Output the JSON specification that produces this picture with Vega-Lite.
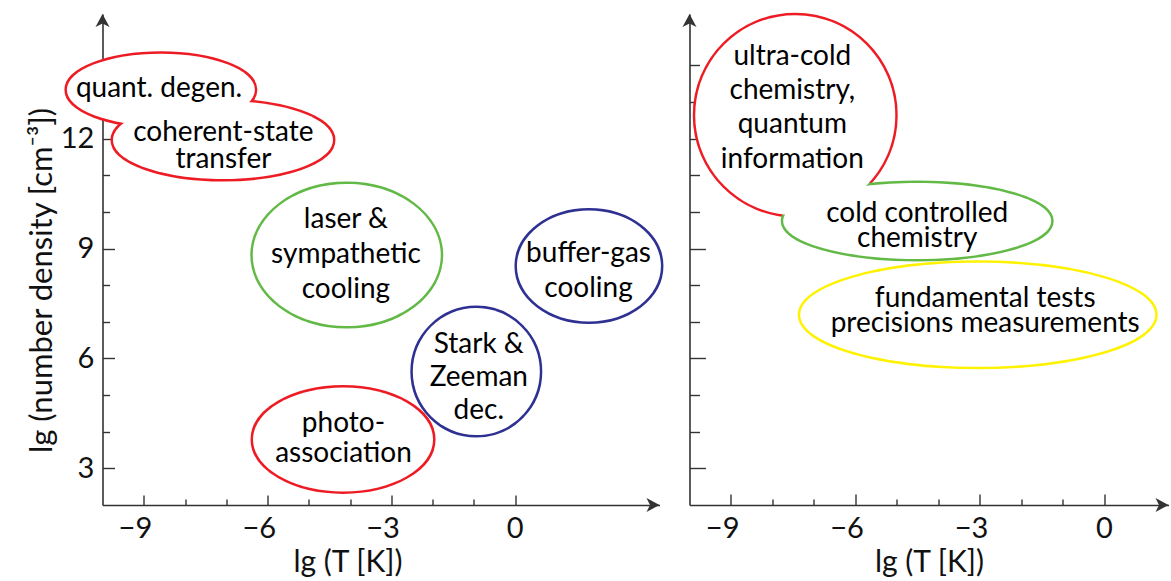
{
  "$schema": "https://vega.github.io/schema/vega-lite/v6.json",
  "background": "white",
  "padding": {"left": 26.5, "top": 12, "right": 0, "bottom": 0},
  "spacing": 19,
  "config": {
    "view": {"stroke": null},
    "font": "Lato",
    "axis": {
      "grid": false,
      "ticks": true,
      "domainColor": "#333333",
      "domainWidth": 1.6,
      "tickColor": "#333333",
      "tickWidth": 1.4,
      "labelFont": "Lato",
      "labelFontSize": 29,
      "labelColor": "#111111",
      "labelFlush": false,
      "labelOverlap": false,
      "titleFont": "Lato",
      "titleFontSize": 30,
      "titleFontWeight": "normal",
      "titleColor": "#111111"
    }
  },
  "datasets": {
    "bubbles": [
      {"panel": "left", "id": "quant", "x": -8.585, "y": 13.33},
      {"panel": "left", "id": "coherent", "x": -7.08, "y": 11.96},
      {"panel": "left", "id": "laser", "x": -4.08, "y": 8.82},
      {"panel": "left", "id": "buffer", "x": 1.79, "y": 8.52},
      {"panel": "left", "id": "stark", "x": -0.94, "y": 5.64},
      {"panel": "left", "id": "photo", "x": -4.17, "y": 3.79},
      {"panel": "right", "id": "ultra", "x": -7.45, "y": 12.64},
      {"panel": "right", "id": "cold", "x": -4.51, "y": 9.75},
      {"panel": "right", "id": "fund", "x": -3.05, "y": 7.19}
    ],
    "lines": [
      {"panel": "left", "x": -8.63, "y": 13.14, "text": "quant. degen."},
      {"panel": "left", "x": -7.07, "y": 11.93, "text": "coherent-state"},
      {"panel": "left", "x": -7.07, "y": 11.19, "text": "transfer"},
      {"panel": "left", "x": -4.1, "y": 9.56, "text": "laser &"},
      {"panel": "left", "x": -4.1, "y": 8.6, "text": "sympathetic"},
      {"panel": "left", "x": -4.1, "y": 7.65, "text": "cooling"},
      {"panel": "left", "x": 1.78, "y": 8.62, "text": "buffer-gas"},
      {"panel": "left", "x": 1.78, "y": 7.69, "text": "cooling"},
      {"panel": "left", "x": -0.88, "y": 6.16, "text": "Stark &"},
      {"panel": "left", "x": -0.88, "y": 5.26, "text": "Zeeman"},
      {"panel": "left", "x": -0.88, "y": 4.35, "text": "dec."},
      {"panel": "left", "x": -4.16, "y": 4.0, "text": "photo-"},
      {"panel": "left", "x": -4.16, "y": 3.16, "text": "association"},
      {"panel": "right", "x": -7.52, "y": 14.01, "text": "ultra-cold"},
      {"panel": "right", "x": -7.52, "y": 13.07, "text": "chemistry,"},
      {"panel": "right", "x": -7.52, "y": 12.14, "text": "quantum"},
      {"panel": "right", "x": -7.52, "y": 11.21, "text": "information"},
      {"panel": "right", "x": -4.51, "y": 9.73, "text": "cold controlled"},
      {"panel": "right", "x": -4.51, "y": 9.03, "text": "chemistry"},
      {"panel": "right", "x": -2.87, "y": 7.41, "text": "fundamental tests"},
      {"panel": "right", "x": -2.87, "y": 6.73, "text": "precisions measurements"}
    ]
  },
  "hconcat": [
    {
      "width": 557,
      "height": 491,
      "encoding": {
        "x": {
          "field": "x", "type": "quantitative",
          "scale": {"domain": [-10, 3.5], "nice": false, "zero": false},
          "axis": {
            "title": "lg (T [K])",
            "values": [-9, -8, -7, -6, -5, -4, -3, -2, -1, 0],
            "labelExpr": "datum.value % 3 === 0 ? datum.label : ''",
            "labelAlign": "right",
            "labelOffset": 8,
            "labelBaseline": "alphabetic",
            "tickSize": {"condition": {"test": "datum.value % 3 === 0", "value": -10}, "value": -6},
            "labelPadding": 42,
            "titleX": 245,
            "titleY": 66,
            "titleBaseline": "alphabetic"
          }
        },
        "y": {
          "field": "y", "type": "quantitative",
          "scale": {"domain": [2, 15.4], "nice": false, "zero": false},
          "axis": {
            "title": "lg (number density [cm⁻³])",
            "values": [3, 4, 5, 6, 7, 8, 9, 10, 11, 12, 13, 14],
            "labelExpr": "datum.value % 3 === 0 ? datum.label : ''",
            "tickSize": {"condition": {"test": "datum.value % 3 === 0", "value": -12}, "value": -7},
            "labelPadding": 20.6,
            "titleX": -51,
            "titleY": 266,
            "titleBaseline": "alphabetic",
            "titleFontSize": 31
          }
        }
      },
      "layer": [
        {
          "data": {"name": "bubbles"},
          "transform": [{"filter": "datum.panel === 'left'"}],
          "mark": {"type": "point", "filled": true, "fill": "white", "strokeWidth": 5, "strokeJoin": "round", "opacity": 1, "size": 4},
          "encoding": {
            "shape": {
              "field": "id", "type": "nominal", "legend": null,
              "scale": {
                "domain": ["quant", "coherent", "laser", "buffer", "stark", "photo", "ultra", "cold", "fund"],
                "range": [
                  "M-94,0A94,36 0 1,0 94,0A94,36 0 1,0 -94,0Z",
                  "M-110,0A110,39 0 1,0 110,0A110,39 0 1,0 -110,0Z",
                  "M-94,0A94,71 0 1,0 94,0A94,71 0 1,0 -94,0Z",
                  "M-72,0A72,55.5 0 1,0 72,0A72,55.5 0 1,0 -72,0Z",
                  "M-63.5,0A63.5,63.5 0 1,0 63.5,0A63.5,63.5 0 1,0 -63.5,0Z",
                  "M-90,0A90,52 0 1,0 90,0A90,52 0 1,0 -90,0Z",
                  "M-100,0A100,100 0 1,0 100,0A100,100 0 1,0 -100,0Z",
                  "M-134,0A134,38 0 1,0 134,0A134,38 0 1,0 -134,0Z",
                  "M-177.5,0A177.5,52 0 1,0 177.5,0A177.5,52 0 1,0 -177.5,0Z"
                ]
              }
            },
            "stroke": {
              "field": "id", "type": "nominal", "legend": null,
              "scale": {
                "domain": ["quant", "coherent", "laser", "buffer", "stark", "photo", "ultra", "cold", "fund"],
                "range": ["#ed1c24", "#ed1c24", "#62b946", "#2e3192", "#2e3192", "#ed1c24", "#ed1c24", "#62b946", "#fff200"]
              }
            }
          }
        },
        {
          "data": {"name": "bubbles"},
          "transform": [{"filter": "datum.panel === 'left'"}],
          "mark": {"type": "point", "filled": true, "fill": "white", "strokeWidth": 0, "opacity": 1, "size": 4},
          "encoding": {
            "shape": {"field": "id", "type": "nominal", "legend": null}
          }
        },
        {
          "data": {"name": "lines"},
          "transform": [{"filter": "datum.panel === 'left'"}],
          "mark": {"type": "text", "font": "Lato", "fontSize": 28, "align": "center", "baseline": "alphabetic", "color": "#000000"},
          "encoding": {"text": {"field": "text"}}
        },
        {
          "data": {"values": [{"x": -10, "y": 15.4}]},
          "mark": {"type": "point", "shape": "M0,0L7,13L0,9.5L-7,13Z", "size": 4, "filled": true, "color": "#333333", "strokeWidth": 0, "opacity": 1}
        },
        {
          "data": {"values": [{"x": 3.5, "y": 2}]},
          "mark": {"type": "point", "shape": "M0,0L-13,7L-9.5,0L-13,-7Z", "size": 4, "filled": true, "color": "#333333", "strokeWidth": 0, "opacity": 1}
        }
      ]
    },
    {
      "width": 479,
      "height": 491,
      "encoding": {
        "x": {
          "field": "x", "type": "quantitative",
          "scale": {"domain": [-10, 1.55], "nice": false, "zero": false},
          "axis": {
            "title": "lg (T [K])",
            "values": [-9, -8, -7, -6, -5, -4, -3, -2, -1, 0],
            "labelExpr": "datum.value % 3 === 0 ? datum.label : ''",
            "labelAlign": "right",
            "labelOffset": 8,
            "labelBaseline": "alphabetic",
            "tickSize": {"condition": {"test": "datum.value % 3 === 0", "value": -11}, "value": -6},
            "labelPadding": 43,
            "titleY": 66,
            "titleBaseline": "alphabetic"
          }
        },
        "y": {
          "field": "y", "type": "quantitative",
          "scale": {"domain": [2, 15.4], "nice": false, "zero": false},
          "axis": {
            "title": null,
            "labels": false,
            "values": [3, 4, 5, 6, 7, 8, 9, 10, 11, 12, 13, 14],
            "tickSize": {"condition": {"test": "datum.value % 3 === 0", "value": -16}, "value": -10}
          }
        }
      },
      "layer": [
        {
          "data": {"name": "bubbles"},
          "transform": [{"filter": "datum.panel === 'right'"}],
          "mark": {"type": "point", "filled": true, "fill": "white", "strokeWidth": 5, "strokeJoin": "round", "opacity": 1, "size": 4},
          "encoding": {
            "shape": {"field": "id", "type": "nominal", "legend": null},
            "stroke": {"field": "id", "type": "nominal", "legend": null}
          }
        },
        {
          "data": {"name": "bubbles"},
          "transform": [{"filter": "datum.panel === 'right'"}],
          "mark": {"type": "point", "filled": true, "fill": "white", "strokeWidth": 0, "opacity": 1, "size": 4},
          "encoding": {
            "shape": {"field": "id", "type": "nominal", "legend": null}
          }
        },
        {
          "data": {"name": "lines"},
          "transform": [{"filter": "datum.panel === 'right'"}],
          "mark": {"type": "text", "font": "Lato", "fontSize": 28, "align": "center", "baseline": "alphabetic", "color": "#000000"},
          "encoding": {"text": {"field": "text"}}
        },
        {
          "data": {"values": [{"x": -10, "y": 15.4}]},
          "mark": {"type": "point", "shape": "M0,0L7,13L0,9.5L-7,13Z", "size": 4, "filled": true, "color": "#333333", "strokeWidth": 0, "opacity": 1}
        },
        {
          "data": {"values": [{"x": 1.55, "y": 2}]},
          "mark": {"type": "point", "shape": "M0,0L-13,7L-9.5,0L-13,-7Z", "size": 4, "filled": true, "color": "#333333", "strokeWidth": 0, "opacity": 1}
        }
      ]
    }
  ]
}
